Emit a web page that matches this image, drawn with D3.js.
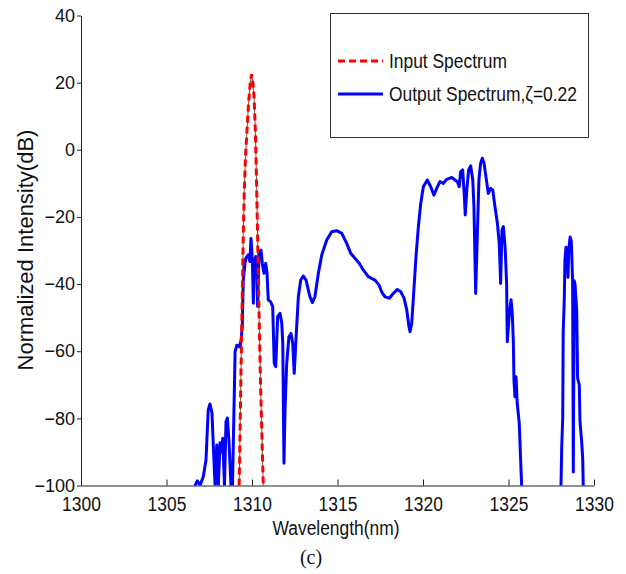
<!DOCTYPE html>
<html>
<head>
<meta charset="utf-8">
<script src="https://cdn.jsdelivr.net/npm/d3@7"></script>
<style>
  body { margin: 0; background: #fff; }
  text { font-family: Arial, "Liberation Sans", sans-serif; fill: #111; }
</style>
</head>
<body>
<div id="chart"></div>
<script>
// tick values
var xTickValues = [1300, 1305, 1310, 1315, 1320, 1325, 1330];
var yTickValues = [-100, -80, -60, -40, -20, 0, 20, 40];

// legend labels
var legendLabels = ["Input Spectrum", "Output Spectrum,\u03b6=0.22"];

// input spectrum [wavelength nm, dB]
var inputSpectrum = [
  [1309.25, -100], [1309.30, -85], [1309.35, -68], [1309.40, -53], [1309.45, -38],
  [1309.49, -25], [1309.55, -12], [1309.62, -2], [1309.70, 5], [1309.80, 14],
  [1309.90, 20], [1309.98, 22.5], [1310.05, 20], [1310.12, 16], [1310.20, 5],
  [1310.26, -8], [1310.31, -21], [1310.37, -38], [1310.43, -53], [1310.50, -70],
  [1310.58, -85], [1310.66, -100]
];

// output spectrum [wavelength nm, dB], values under -100 fall off the plot
var outputSpectrum = [
  [1306.50, -120], [1306.67, -100], [1306.80, -98.6], [1306.96, -100], [1307.15, -97.4],
  [1307.31, -92.4], [1307.44, -77.5], [1307.54, -75.7], [1307.66, -78.4], [1307.74, -88.4],
  [1307.84, -100], [1307.94, -87.9], [1308.03, -100], [1308.13, -87.3], [1308.22, -90],
  [1308.29, -85.9], [1308.39, -100], [1308.48, -81], [1308.56, -79.9], [1308.65, -86.4],
  [1308.77, -100], [1308.86, -100], [1308.98, -68.6], [1309.01, -60.2], [1309.11, -58.2],
  [1309.26, -58.7], [1309.36, -56.7], [1309.43, -52.7], [1309.49, -38.8], [1309.59, -33.8],
  [1309.65, -32.2], [1309.78, -31.3], [1309.88, -33.3], [1309.94, -26.4], [1310.02, -32.8],
  [1310.08, -45.7], [1310.13, -33.7], [1310.22, -31.8], [1310.27, -33.8], [1310.33, -46.7],
  [1310.41, -30.8], [1310.53, -29.9], [1310.60, -33.8], [1310.70, -36.8], [1310.80, -33.8],
  [1310.88, -36.7], [1310.95, -44.7], [1311.09, -45.3], [1311.21, -46.7], [1311.30, -63.6],
  [1311.39, -64.6], [1311.50, -49.7], [1311.64, -48.7], [1311.74, -51.7], [1311.80, -57.6],
  [1311.87, -93.4], [1311.93, -77.5], [1312.03, -63.6], [1312.16, -55.7], [1312.28, -54.7],
  [1312.38, -57.6], [1312.47, -66.6], [1312.57, -56.7], [1312.71, -43.8], [1312.85, -38.8],
  [1313.00, -37.6], [1313.16, -38.8], [1313.39, -43.8], [1313.53, -45.5], [1313.68, -43.8],
  [1313.88, -36.8], [1314.08, -31.3], [1314.37, -26.9], [1314.66, -24.4], [1314.95, -24.1],
  [1315.25, -24.9], [1315.54, -27.9], [1315.77, -30.8], [1316.02, -32.3], [1316.27, -33.8],
  [1316.51, -35.8], [1316.80, -37.8], [1317.19, -38.8], [1317.43, -40.3], [1317.58, -42.3],
  [1317.78, -43.8], [1318.03, -44.2], [1318.26, -42.8], [1318.50, -41.6], [1318.70, -42.3],
  [1318.89, -44.2], [1319.05, -47.7], [1319.18, -52.7], [1319.24, -54.2], [1319.34, -51.7],
  [1319.43, -44.7], [1319.59, -31.8], [1319.73, -22.9], [1319.87, -15.9], [1320.02, -11.0],
  [1320.25, -9.0], [1320.45, -11.0], [1320.64, -13.5], [1320.80, -11.5], [1320.99, -9.5],
  [1321.19, -10.0], [1321.39, -8.8], [1321.68, -8.2], [1321.87, -9.0], [1322.01, -9.5],
  [1322.12, -11.0], [1322.20, -6.5], [1322.32, -6.0], [1322.42, -14.0], [1322.47, -19.4],
  [1322.56, -12.0], [1322.67, -6.0], [1322.79, -4.8], [1322.91, -9.0], [1322.98, -17.0],
  [1323.08, -42.8], [1323.18, -24.9], [1323.27, -9.0], [1323.37, -4.0], [1323.47, -2.5],
  [1323.57, -4.0], [1323.68, -8.0], [1323.82, -13.0], [1323.96, -11.5], [1324.08, -12.0],
  [1324.21, -17.0], [1324.35, -21.9], [1324.46, -27.9], [1324.54, -39.8], [1324.62, -23.9],
  [1324.70, -22.9], [1324.80, -28.9], [1324.89, -39.8], [1324.93, -57.2], [1325.05, -48.7],
  [1325.15, -44.7], [1325.22, -48.7], [1325.28, -56.7], [1325.32, -68.6], [1325.38, -73.6],
  [1325.44, -67.6], [1325.51, -75.5], [1325.63, -81.5], [1325.71, -92.4], [1325.77, -100],
  [1325.90, -120], [1327.95, -120],
  [1328.07, -100], [1328.11, -89], [1328.17, -80], [1328.20, -54], [1328.26, -45],
  [1328.30, -33], [1328.36, -29], [1328.44, -31], [1328.48, -38], [1328.52, -30],
  [1328.60, -26], [1328.67, -27], [1328.71, -33], [1328.75, -39], [1328.79, -96],
  [1328.84, -39], [1328.89, -40], [1328.99, -48], [1329.04, -68], [1329.14, -70],
  [1329.18, -81], [1329.28, -87], [1329.34, -92], [1329.37, -100], [1329.50, -120]
];

var svgWidth = 626;
var svgHeight = 574;

var svg = d3.select("#chart")
  .append("svg")
  .attr("width", svgWidth)
  .attr("height", svgHeight);

// scales
var xScale = d3.scaleLinear().domain([1300, 1330]).range([81, 594]);
var yScale = d3.scaleLinear().domain([-100, 40]).range([485.5, 15.5]);

// clip to plot area
svg.append("clipPath")
  .attr("id", "plotClip")
  .append("rect")
  .attr("x", 81).attr("y", 15.5)
  .attr("width", 513).attr("height", 470);

var line = d3.line()
  .x(d => xScale(d[0]))
  .y(d => yScale(d[1]));

var plot = svg.append("g").attr("clip-path", "url(#plotClip)");

// output spectrum (blue)
plot.append("path")
  .datum(outputSpectrum)
  .attr("d", line)
  .attr("fill", "none")
  .attr("stroke", "#0000ff")
  .attr("stroke-width", 3)
  .attr("stroke-linejoin", "round");

// input spectrum: thin dark trace under the red dashes
plot.append("path")
  .datum(inputSpectrum)
  .attr("d", line)
  .attr("fill", "none")
  .attr("stroke", "#333")
  .attr("stroke-width", 0.8);

plot.append("path")
  .datum(inputSpectrum)
  .attr("d", line)
  .attr("fill", "none")
  .attr("stroke", "#ff0000")
  .attr("stroke-width", 3)
  .attr("stroke-dasharray", "7,4");

// y axis
var yAxis = svg.append("g")
  .attr("transform", "translate(81,0)")
  .call(d3.axisLeft(yScale).tickValues(yTickValues).tickSize(4).tickSizeOuter(0).tickPadding(2));
yAxis.selectAll("text")
  .style("font-size", "18px")
  .attr("fill", "#111");

// x axis, ticks pointing inward
var xAxis = svg.append("g")
  .attr("transform", "translate(0,485.5)")
  .call(d3.axisBottom(xScale).tickValues(xTickValues).tickFormat(d3.format("d")).tickSize(-6).tickSizeOuter(0));
xAxis.selectAll("text")
  .attr("y", null)
  .attr("dy", null)
  .attr("transform", "translate(0,25) scale(0.83,1)")
  .style("font-size", "21px")
  .attr("fill", "#111");

svg.selectAll(".domain, .tick line").attr("stroke", "#222");

// axis labels
svg.append("text")
  .attr("transform", "translate(336,535) scale(0.87,1)")
  .attr("text-anchor", "middle")
  .style("font-size", "20px")
  .text("Wavelength(nm)");

svg.append("text")
  .attr("transform", "translate(32.5,250) rotate(-90)")
  .attr("text-anchor", "middle")
  .style("font-size", "22px")
  .text("Normalized Intensity(dB)");

svg.append("text")
  .attr("x", 311)
  .attr("y", 564)
  .attr("text-anchor", "middle")
  .style("font-family", "'Liberation Serif', 'Times New Roman', serif")
  .style("font-size", "20px")
  .text("(c)");

// legend
var legend = svg.append("g");
legend.append("rect")
  .attr("x", 330.5).attr("y", 13.5)
  .attr("width", 258).attr("height", 124)
  .attr("fill", "#fff")
  .attr("stroke", "#333")
  .attr("stroke-width", 1);

var legendStyles = [
  {color: "#ff0000", dash: "7,4", y: 61},
  {color: "#0000ff", dash: null, y: 94}
];

legendLabels.forEach(function(label, i) {
  var s = legendStyles[i];
  legend.append("line")
    .attr("x1", 338).attr("x2", 383)
    .attr("y1", s.y).attr("y2", s.y)
    .attr("stroke", s.color)
    .attr("stroke-width", 3)
    .attr("stroke-dasharray", s.dash);
  legend.append("text")
    .attr("transform", `translate(389,${s.y + 7}) scale(0.87,1)`)
    .style("font-size", "20px")
    .text(label);
});
</script>
</body>
</html>
